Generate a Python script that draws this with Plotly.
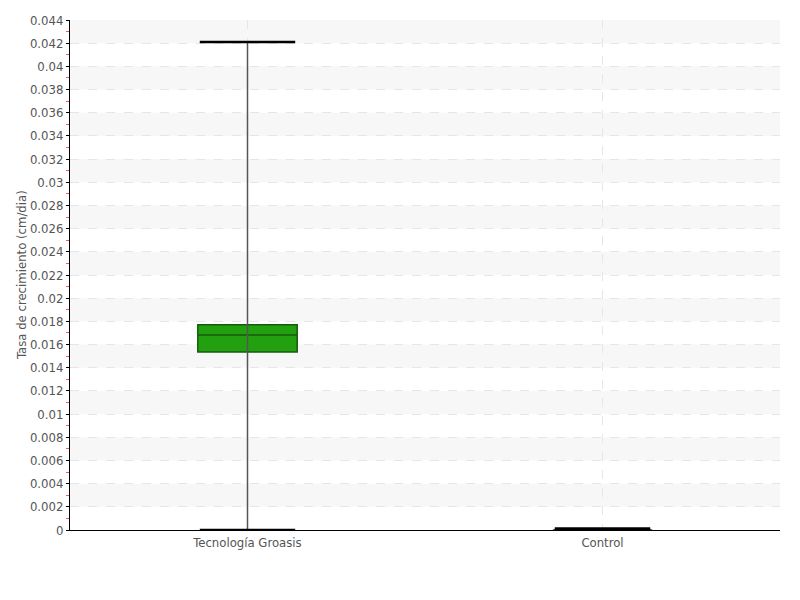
import plotly.graph_objects as go

categories = ["Tecnología Groasis", "Control"]
q1_vals = [0.01535, 0.0]
median_vals = [0.01683, 0.0]
q3_vals = [0.01770, 0.0]
min_vals = [0.0, 0.0]
max_vals = [0.0421, 0.0]

y_ticks = [round(0.002 * i, 3) for i in range(23)]
y_ticktext = ["0"] + [("%g" % v) for v in y_ticks[1:]]
y_title = "Tasa de crecimiento (cm/dia)"

positions = list(range(len(categories)))
box_w = 0.28
FONT = "DejaVu Sans Condensed, Liberation Sans Narrow, sans-serif"

fig = go.Figure()

# whiskers (vertical)
for p, lo, hi in zip(positions, min_vals, max_vals):
    fig.add_trace(go.Scatter(x=[p, p], y=[lo, hi], mode="lines",
                             line=dict(color="#555555", width=1.5),
                             showlegend=False, hoverinfo="skip"))

# boxes
fig.add_trace(go.Box(x=positions, q1=q1_vals, median=median_vals, q3=q3_vals,
                     lowerfence=q1_vals, upperfence=q3_vals,
                     width=box_w, fillcolor="#22a010",
                     line=dict(color="#145c0a", width=1.5),
                     whiskerwidth=0, showlegend=False, boxpoints=False))

# caps
for p, lo, hi in zip(positions, min_vals, max_vals):
    for v in (lo, hi):
        fig.add_trace(go.Scatter(x=[p - box_w / 2 * 0.96, p + box_w / 2 * 0.96], y=[v, v],
                                 mode="lines", line=dict(color="black", width=2.5),
                                 showlegend=False, hoverinfo="skip", cliponaxis=False))
# collapsed box: thicker line
for p, lo, hi in zip(positions, q1_vals, q3_vals):
    if hi - lo == 0:
        fig.add_trace(go.Scatter(x=[p - box_w / 2 * 0.96, p + box_w / 2 * 0.96], y=[lo, lo],
                                 mode="lines", line=dict(color="black", width=5.5),
                                 showlegend=False, hoverinfo="skip", cliponaxis=False))

# alternating bands
shapes = []
for i in range(1, len(y_ticks) - 1, 2):
    shapes.append(dict(type="rect", xref="paper", yref="y", x0=0, x1=1,
                       y0=y_ticks[i], y1=y_ticks[i + 1], fillcolor="#f7f7f7",
                       line=dict(width=0), layer="below"))

fig.update_layout(
    width=800, height=600,
    margin=dict(l=62, r=28, t=12, b=78, autoexpand=False),
    plot_bgcolor="white", paper_bgcolor="white",
    font=dict(family=FONT, size=13, color="#555555"),
    shapes=shapes,
    annotations=[dict(text=y_title, xref="paper", yref="paper", x=0, y=0.5,
                      xanchor="center", yanchor="middle", xshift=-49,
                      textangle=-90, showarrow=False,
                      font=dict(size=13, color="#555555"))],
    xaxis=dict(range=[-0.5, 1.5], tickvals=positions, ticktext=categories,
               automargin=False,
               showgrid=True, gridcolor="#e6e6e6", griddash="dash", gridwidth=1,
               zeroline=False, showline=True, linecolor="black", linewidth=1,
               ticks="", tickfont=dict(size=13, color="#555555")),
    yaxis=dict(range=[0, 0.044], tickvals=y_ticks, ticktext=y_ticktext,
               automargin=False,
               showgrid=True, gridcolor="#e6e6e6", griddash="dash", gridwidth=1,
               zeroline=False, showline=True, linecolor="black", linewidth=1,
               ticks="outside", ticklen=3, tickcolor="black",
               minor=dict(dtick=0.001, tick0=0, ticks="outside", ticklen=3,
                          tickcolor="#ff5555", showgrid=False),
               tickfont=dict(size=13, color="#555555")),
)

fig.write_html("out.html")
